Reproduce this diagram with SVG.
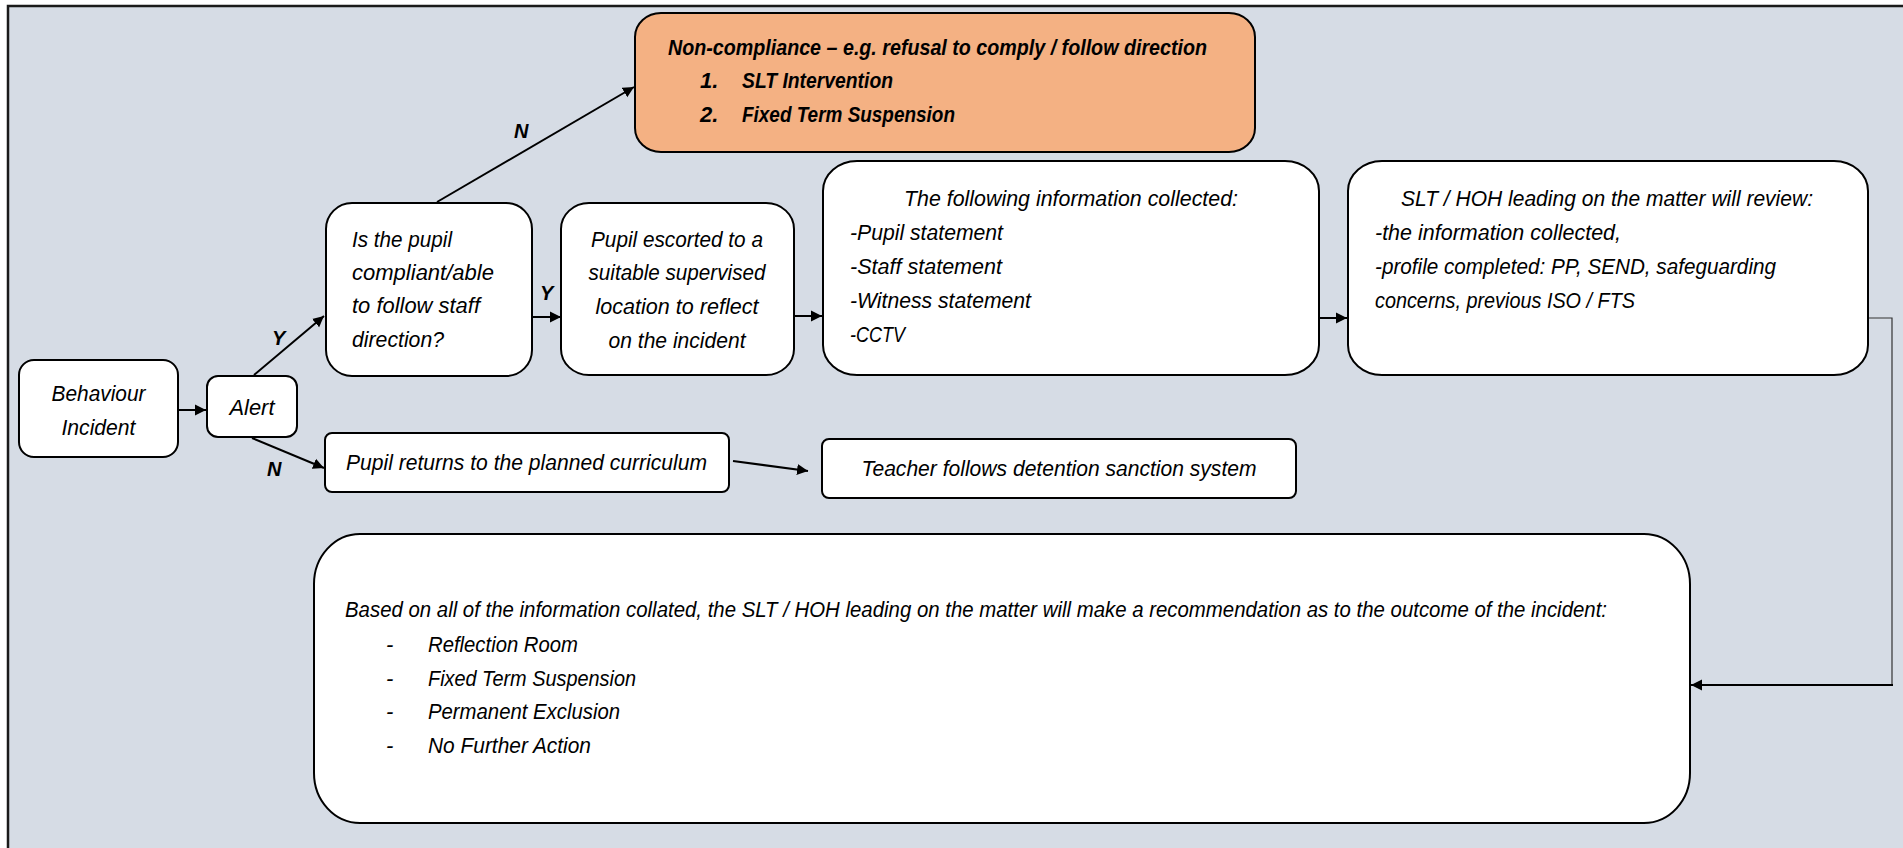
<svg xmlns="http://www.w3.org/2000/svg" width="1903" height="848" viewBox="0 0 1903 848">
<defs>
<style>
.bg{fill:#d6dce5;stroke:#1a1a1a;stroke-width:2.5}
.box{fill:#ffffff;stroke:#000;stroke-width:2}
.orange{fill:#f4b183;stroke:#000;stroke-width:2}
.t{font-family:"Liberation Sans",Arial,sans-serif;font-style:italic;font-size:22px;fill:#000}
.tb{font-family:"Liberation Sans",Arial,sans-serif;font-style:italic;font-weight:bold;font-size:22px;fill:#000}
.lbl{font-family:"Liberation Sans",Arial,sans-serif;font-style:italic;font-weight:bold;font-size:20px;fill:#000}
.c{text-anchor:middle}
.ln{fill:none;stroke:#000;stroke-width:2}
.thin{fill:none;stroke:#333;stroke-width:1.2}
</style>
<marker id="ah" markerUnits="userSpaceOnUse" markerWidth="12" markerHeight="12" refX="11" refY="5.5" orient="auto" viewBox="0 0 12 11">
<path d="M0,0 L11,5.5 L0,11 z" fill="#000"/>
</marker>
</defs>
<rect class="bg" x="8" y="6" width="1910" height="860"/>

<g id="connectors">
<line class="ln" x1="178" y1="410" x2="206" y2="410" marker-end="url(#ah)"/>
<line class="ln" x1="254" y1="375" x2="324" y2="316" marker-end="url(#ah)"/>
<line class="ln" x1="252" y1="438" x2="324" y2="468" marker-end="url(#ah)"/>
<line class="ln" x1="437" y1="202" x2="634" y2="87" marker-end="url(#ah)"/>
<line class="ln" x1="532" y1="317" x2="561" y2="317" marker-end="url(#ah)"/>
<line class="ln" x1="794" y1="316" x2="822" y2="316" marker-end="url(#ah)"/>
<line class="ln" x1="1319" y1="318" x2="1347" y2="318" marker-end="url(#ah)"/>
<line class="ln" x1="733" y1="461" x2="808" y2="471" marker-end="url(#ah)"/>
<path class="thin" d="M1868,318 H1892 V685"/>
<line class="ln" x1="1893" y1="685" x2="1691" y2="685" marker-end="url(#ah)"/>
<text class="lbl" x="272" y="345">Y</text>
<text class="lbl" x="267" y="476">N</text>
<text class="lbl" x="540" y="300">Y</text>
<text class="lbl" x="514" y="138">N</text>
</g>

<g id="behaviour">
<rect class="box" x="19" y="360" width="159" height="97" rx="15" ry="15"/>
<text class="t c" x="98.5" y="401" textLength="94" lengthAdjust="spacingAndGlyphs">Behaviour</text>
<text class="t c" x="98.5" y="435" textLength="74" lengthAdjust="spacingAndGlyphs">Incident</text>
</g>

<g id="alert">
<rect class="box" x="207" y="376" width="90" height="61" rx="11" ry="11"/>
<text class="t c" x="252" y="415" textLength="45" lengthAdjust="spacingAndGlyphs">Alert</text>
</g>

<g id="noncompliance">
<rect class="orange" x="635" y="13" width="620" height="139" rx="26" ry="24"/>
<text class="tb" x="668" y="55" textLength="539" lengthAdjust="spacingAndGlyphs">Non-compliance – e.g. refusal to comply / follow direction</text>
<text class="tb" x="700" y="88">1.</text>
<text class="tb" x="742" y="88" textLength="151" lengthAdjust="spacingAndGlyphs">SLT Intervention</text>
<text class="tb" x="700" y="122">2.</text>
<text class="tb" x="742" y="122" textLength="213" lengthAdjust="spacingAndGlyphs">Fixed Term Suspension</text>
</g>

<g id="question">
<rect class="box" x="326" y="203" width="206" height="173" rx="26" ry="26"/>
<text class="t" x="352" y="247" textLength="100" lengthAdjust="spacingAndGlyphs">Is the pupil</text>
<text class="t" x="352" y="280" textLength="142" lengthAdjust="spacingAndGlyphs">compliant/able</text>
<text class="t" x="352" y="313" textLength="128" lengthAdjust="spacingAndGlyphs">to follow staff</text>
<text class="t" x="352" y="347" textLength="92" lengthAdjust="spacingAndGlyphs">direction?</text>
</g>

<g id="escort">
<rect class="box" x="561" y="203" width="233" height="172" rx="28" ry="26"/>
<text class="t c" x="677" y="247" textLength="172" lengthAdjust="spacingAndGlyphs">Pupil escorted to a</text>
<text class="t c" x="677" y="280" textLength="177" lengthAdjust="spacingAndGlyphs">suitable supervised</text>
<text class="t c" x="677" y="314" textLength="163" lengthAdjust="spacingAndGlyphs">location to reflect</text>
<text class="t c" x="677" y="348" textLength="137" lengthAdjust="spacingAndGlyphs">on the incident</text>
</g>

<g id="info">
<rect class="box" x="823" y="161" width="496" height="214" rx="34" ry="30"/>
<text class="t c" x="1071" y="206" textLength="334" lengthAdjust="spacingAndGlyphs">The following information collected:</text>
<text class="t" x="850" y="240" textLength="153" lengthAdjust="spacingAndGlyphs">-Pupil statement</text>
<text class="t" x="850" y="274" textLength="152" lengthAdjust="spacingAndGlyphs">-Staff statement</text>
<text class="t" x="850" y="308" textLength="181" lengthAdjust="spacingAndGlyphs">-Witness statement</text>
<text class="t" x="850" y="342" textLength="55" lengthAdjust="spacingAndGlyphs">-CCTV</text>
</g>

<g id="review">
<rect class="box" x="1348" y="161" width="520" height="214" rx="34" ry="30"/>
<text class="t" x="1401" y="206" textLength="412" lengthAdjust="spacingAndGlyphs">SLT / HOH leading on the matter will review:</text>
<text class="t" x="1375" y="240" textLength="246" lengthAdjust="spacingAndGlyphs">-the information collected,</text>
<text class="t" x="1375" y="274" textLength="401" lengthAdjust="spacingAndGlyphs">-profile completed: PP, SEND, safeguarding</text>
<text class="t" x="1375" y="308" textLength="260" lengthAdjust="spacingAndGlyphs">concerns, previous ISO / FTS</text>
</g>

<g id="returns">
<rect class="box" x="325" y="433" width="404" height="59" rx="7" ry="7"/>
<text class="t" x="346" y="470" textLength="361" lengthAdjust="spacingAndGlyphs">Pupil returns to the planned curriculum</text>
</g>

<g id="teacher">
<rect class="box" x="822" y="439" width="474" height="59" rx="7" ry="7"/>
<text class="t c" x="1059" y="476" textLength="395" lengthAdjust="spacingAndGlyphs">Teacher follows detention sanction system</text>
</g>

<g id="recommendation">
<rect class="box" x="314" y="534" width="1376" height="289" rx="46" ry="50"/>
<text class="t" x="345" y="617" textLength="1262" lengthAdjust="spacingAndGlyphs">Based on all of the information collated, the SLT / HOH leading on the matter will make a recommendation as to the outcome of the incident:</text>
<text class="t" x="386" y="652">-</text>
<text class="t" x="428" y="652" textLength="150" lengthAdjust="spacingAndGlyphs">Reflection Room</text>
<text class="t" x="386" y="686">-</text>
<text class="t" x="428" y="686" textLength="208" lengthAdjust="spacingAndGlyphs">Fixed Term Suspension</text>
<text class="t" x="386" y="719">-</text>
<text class="t" x="428" y="719" textLength="192" lengthAdjust="spacingAndGlyphs">Permanent Exclusion</text>
<text class="t" x="386" y="753">-</text>
<text class="t" x="428" y="753" textLength="163" lengthAdjust="spacingAndGlyphs">No Further Action</text>
</g>
</svg>
